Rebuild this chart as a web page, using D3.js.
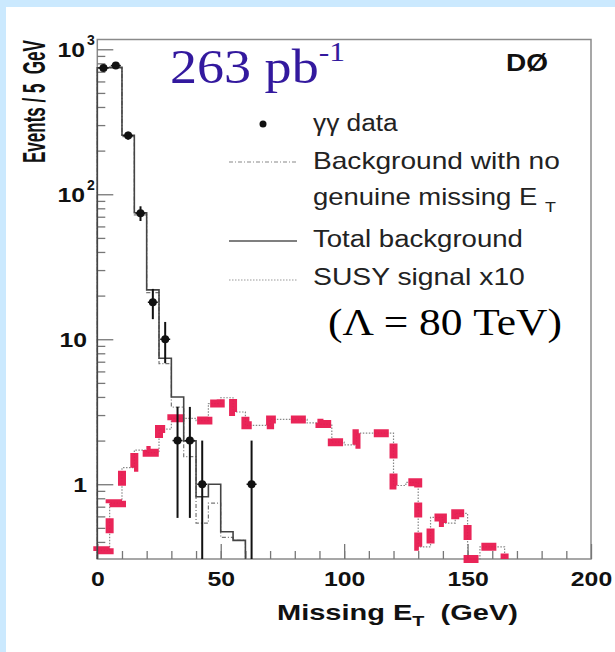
<!DOCTYPE html>
<html>
<head>
<meta charset="utf-8">
<script src="https://cdn.jsdelivr.net/npm/d3@7"></script>
<style>
    body { margin: 0; background: #cbe9fe; }
    svg { display: block; }
</style>
</head>
<body>
<div id="chart-area"></div>
<script>

// Histograms, 5 GeV bins starting at 0 GeV
let binWidth = 5;
let totalBkg = [745, 750, 255, 74.5, 21.9, 7.4, 4.0, 1.99, 0.82, 1.0, 0.47, 0.41];
let noMetBkg = [740, 745, 250, 72, 21, 6.8, 3.4, 1.55, 0.54, 0.74, 0.43, 0.41];
let susyX10 = [0.35, 0.74, 1.3, 1.72, 1.65, 2.4, 2.85, 2.85, 2.75, 3.6, 3.95, 3.15, 2.55, 2.55,
    2.8, 2.8, 2.8, 2.65, 2.6, 1.95, 1.87, 2.25, 2.25, 2.25, 0.98, 1.03, 0.37, 0.59, 0.54, 0.63,
    0.1, 0.37, 0.37];

// gamma gamma data points
let dataCenters = [2.5, 7.5, 12.5, 17.5, 22.5, 27.5, 32.5, 37.5, 42.5, 62.5];
let dataCounts = [743, 772, 254, 74, 18, 10, 2, 2, 1, 1];

// tick labels
let xTickLabels = [0, 50, 100, 150, 200];
let yTickLabels = [[1, "1", ""], [10, "10", ""], [100, "10", "2"], [1000, "10", "3"]];

let width = 615, height = 652;

let svg = d3.select("#chart-area").append("svg")
    .attr("width", width)
    .attr("height", height);

// white panel on the blue slide
svg.append("rect")
    .attr("x", 6).attr("y", 7)
    .attr("width", width - 6).attr("height", height - 7)
    .attr("fill", "white");

let frame = {left: 97.3, right: 591, top: 39.5, bottom: 559};

let x = d3.scaleLinear()
    .domain([0, 200])
    .range([frame.left, frame.right]);

let yMin = 0.305, yMax = 1168;
let y = d3.scaleLog()
    .domain([yMin, yMax])
    .range([frame.bottom, frame.top]);

let sans = "'Liberation Sans', Arial, Helvetica, sans-serif";
let serif = "'Liberation Serif', 'Times New Roman', serif";

// stretch a text element so it spans w pixels
function fitText(txt, tx, ty, w, sy) {
    let bb = txt.node().getBBox();
    let sx = w / bb.width;
    txt.attr("transform", "translate(" + tx + "," + ty + ") scale(" + sx + "," + (sy || 1) + ")");
}

// frame
svg.append("rect")
    .attr("x", frame.left).attr("y", frame.top)
    .attr("width", frame.right - frame.left)
    .attr("height", frame.bottom - frame.top)
    .attr("fill", "none")
    .attr("stroke", "#8a8a8a")
    .attr("stroke-width", 1.5);

// x axis ticks (inward)
let xMinor = svg.append("g")
    .attr("transform", "translate(0," + frame.bottom + ")")
    .call(d3.axisBottom(x).tickValues(d3.range(10, 200, 10)).tickSize(-8).tickSizeOuter(0).tickFormat(""));
let xMajor = svg.append("g")
    .attr("transform", "translate(0," + frame.bottom + ")")
    .call(d3.axisBottom(x).tickValues(xTickLabels).tickSize(-15).tickSizeOuter(0).tickPadding(28));
[xMinor, xMajor].forEach(g => {
    g.select(".domain").remove();
    g.selectAll("line").attr("stroke", "#777").attr("stroke-width", 1.3);
});
xMajor.selectAll("text")
    .attr("font-family", sans)
    .attr("font-weight", "bold")
    .attr("font-size", 21)
    .attr("fill", "#111")
    .attr("dy", 0)
    .attr("y", 27)
    .attr("transform", "scale(1.18,1)");

// y axis ticks (inward)
let yMinorVals = [];
[0.1, 1, 10, 100].forEach(d => {
    for (let k = 2; k <= 9; k++) {
        if (d * k >= yMin) yMinorVals.push(d * k);
    }
});
let yMinor = svg.append("g")
    .attr("transform", "translate(" + frame.left + ",0)")
    .call(d3.axisLeft(y).tickValues(yMinorVals).tickSize(-8).tickSizeOuter(0).tickFormat(""));
let yMajor = svg.append("g")
    .attr("transform", "translate(" + frame.left + ",0)")
    .call(d3.axisLeft(y).tickValues(yTickLabels.map(d => d[0])).tickSize(-16).tickSizeOuter(0).tickFormat(""));
[yMinor, yMajor].forEach(g => {
    g.select(".domain").remove();
    g.selectAll("line").attr("stroke", "#777").attr("stroke-width", 1.3);
});

// y tick labels with exponents
yTickLabels.forEach(d => {
    let t = svg.append("text")
        .attr("font-family", sans)
        .attr("font-weight", "bold")
        .attr("font-size", 21)
        .attr("fill", "#111")
        .attr("text-anchor", "end")
        .text(d[1]);
    let right = d[2] ? 85 : 87;
    t.attr("transform", "translate(" + right + "," + (y(d[0]) + 8) + ") scale(1.18,1)");
    if (d[2]) {
        svg.append("text")
            .attr("x", 87).attr("y", y(d[0]) - 4)
            .attr("font-family", sans)
            .attr("font-weight", "bold")
            .attr("font-size", 14)
            .attr("fill", "#111")
            .text(d[2]);
    }
});

// axis titles
let yTitle = svg.append("text")
    .attr("font-family", sans)
    .attr("font-weight", "bold")
    .attr("font-size", 21)
    .attr("fill", "#111")
    .attr("xml:space", "preserve")
    .text("Events / 5  GeV");
let yLen = yTitle.node().getComputedTextLength();
yTitle.attr("transform", "translate(45,163) rotate(-90) scale(" + (123 / yLen) + ",1.5)");

let xTitle = svg.append("text")
    .attr("font-family", sans)
    .attr("font-weight", "bold")
    .attr("font-size", 22)
    .attr("fill", "#111")
    .attr("xml:space", "preserve");
xTitle.append("tspan").text("Missing E");
xTitle.append("tspan").attr("font-size", 15).attr("dy", 6).text("T");
xTitle.append("tspan").attr("dy", -6).text("  (GeV)");
fitText(xTitle, 277, 620, 241);

// step path helper
function stepPoints(vals) {
    let pts = [[0, yMin]];
    vals.forEach((v, i) => pts.push([i * binWidth, Math.max(v, yMin)]));
    let end = vals.length * binWidth;
    pts.push([end, Math.max(vals[vals.length - 1], yMin)]);
    pts.push([end, yMin]);
    return pts;
}

let step = d3.line()
    .x(d => x(d[0]))
    .y(d => y(d[1]))
    .curve(d3.curveStepAfter);

let plot = svg.append("g");

// SUSY signal x10 (dotted) with red highlight
plot.append("path")
    .attr("d", step(stepPoints(susyX10)))
    .attr("fill", "none")
    .attr("stroke", "#888")
    .attr("stroke-width", 1.2)
    .attr("stroke-dasharray", "1.5,1.5");
plot.append("path")
    .attr("d", step(stepPoints(susyX10)))
    .attr("fill", "none")
    .attr("stroke", "#e8194f")
    .attr("stroke-width", 8)
    .attr("stroke-dasharray", "15,15")
    .attr("stroke-dashoffset", -8)
    .attr("opacity", 0.95);

// background with no genuine missing ET (dash-dot)
plot.append("path")
    .attr("d", step(stepPoints(noMetBkg)))
    .attr("fill", "none")
    .attr("stroke", "#777")
    .attr("stroke-width", 1.2)
    .attr("stroke-dasharray", "4,2,1,2");

// total background (solid)
plot.append("path")
    .attr("d", step(stepPoints(totalBkg)))
    .attr("fill", "none")
    .attr("stroke", "#444")
    .attr("stroke-width", 1.6);

// data points with sqrt(N) errors
let pts = plot.selectAll(".data-point")
    .data(dataCenters.map((c, i) => ({c: c, n: dataCounts[i]})))
    .enter().append("g")
    .attr("class", "data-point");
pts.append("line")
    .attr("x1", d => x(d.c)).attr("x2", d => x(d.c))
    .attr("y1", d => y(d.n + Math.sqrt(d.n)))
    .attr("y2", d => y(Math.max(d.n - Math.sqrt(d.n), yMin)))
    .attr("stroke", "#111")
    .attr("stroke-width", 2);
pts.append("line")
    .attr("x1", d => x(d.c) - 5).attr("x2", d => x(d.c) + 5)
    .attr("y1", d => y(d.n)).attr("y2", d => y(d.n))
    .attr("stroke", "#111")
    .attr("stroke-width", 1.5);
pts.append("circle")
    .attr("cx", d => x(d.c))
    .attr("cy", d => y(d.n))
    .attr("r", 4)
    .attr("fill", "#111");

// legend
let legend = svg.append("g");
legend.append("circle").attr("cx", 263).attr("cy", 124).attr("r", 3.5).attr("fill", "#111");
legend.append("line").attr("x1", 229).attr("x2", 297).attr("y1", 162).attr("y2", 162)
    .attr("stroke", "#888").attr("stroke-width", 1.2).attr("stroke-dasharray", "4,2,1,2");
legend.append("line").attr("x1", 229).attr("x2", 297).attr("y1", 241).attr("y2", 241)
    .attr("stroke", "#555").attr("stroke-width", 1.6);
legend.append("line").attr("x1", 229).attr("x2", 297).attr("y1", 280).attr("y2", 280)
    .attr("stroke", "#999").attr("stroke-width", 1.2).attr("stroke-dasharray", "1.5,1.5");

function legendText(str, ty, w) {
    let t = legend.append("text")
        .attr("font-family", sans)
        .attr("font-size", 23)
        .attr("fill", "#222")
        .text(str);
    fitText(t, 313, ty, w);
    return t;
}
legendText("γγ data", 131, 85);
legendText("Background with no", 169, 247);
let gen = legend.append("text")
    .attr("font-family", sans)
    .attr("font-size", 23)
    .attr("fill", "#222");
gen.append("tspan").text("genuine missing E ");
gen.append("tspan").attr("font-size", 15).attr("dy", 7).text("T");
fitText(gen, 313, 205, 243);
legendText("Total background", 247, 210);
legendText("SUSY signal x10", 285, 212);

let lambda = legend.append("text")
    .attr("font-family", serif)
    .attr("font-size", 37)
    .attr("fill", "#000")
    .text("(Λ = 80 TeV)");
fitText(lambda, 328, 335, 234);

// luminosity and experiment
let lumi = svg.append("text")
    .attr("font-family", serif)
    .attr("font-size", 48)
    .attr("fill", "#33199e");
lumi.append("tspan").text("263 pb");
lumi.append("tspan").attr("font-size", 28).attr("dy", -22).text("-1");
fitText(lumi, 170, 83, 175);

let d0 = svg.append("text")
    .attr("font-family", sans)
    .attr("font-weight", "bold")
    .attr("font-size", 23)
    .attr("fill", "#111")
    .text("DØ");
fitText(d0, 506, 71, 42);

</script>
</body>
</html>
